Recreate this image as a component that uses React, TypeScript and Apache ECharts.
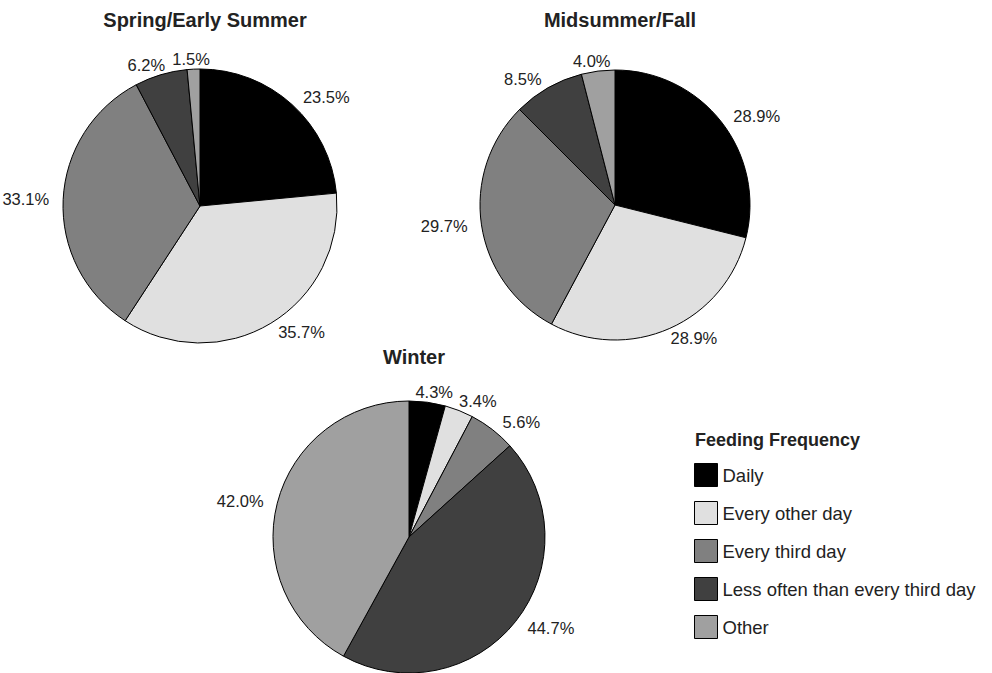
import React, { useEffect, useRef } from "react";
import * as echarts from "echarts";

const categories = [
  "Daily",
  "Every other day",
  "Every third day",
  "Less often than every third day",
  "Other",
];
const colors = ["#000000", "#e0e0e0", "#808080", "#404040", "#a0a0a0"];
const springValues = [23.5, 35.7, 33.1, 6.2, 1.5];
const midsummerValues = [28.9, 28.9, 29.7, 8.5, 4.0];
const winterValues = [4.3, 3.4, 5.6, 44.7, 42.0];
const panelTitles = ["Spring/Early Summer", "Midsummer/Fall", "Winter"];
const legendTitle = "Feeding Frequency";

const FONT = "'Liberation Sans', Arial, Helvetica, sans-serif";

// Labels near the top of a pie are centred over their slice; labels toward the
// sides are pushed fully outward (left/right aligned), blended smoothly.
function pieLabelLayout(params: any) {
  const pts = params.labelLinePoints;
  const r = params.labelRect;
  if (!pts || pts.length < 2 || !r) return {};
  const p0 = pts[0];
  const p1 = pts[1];
  const end = pts[pts.length - 1];
  const dx = p1[0] - p0[0];
  const dy = p1[1] - p0[1];
  const len = Math.hypot(dx, dy) || 1;
  const s = dx / len;
  const f = Math.sign(s) * Math.min(1, 1.8 * Math.abs(s));
  return {
    x: end[0] + f * (r.width / 2 + 4),
    y: r.y + r.height / 2,
    align: "center",
    verticalAlign: "middle",
  };
}

function makePie(name: string, values: number[], center: [number, number], radius: number) {
  return {
    type: "pie",
    name,
    center,
    radius,
    startAngle: 90,
    clockwise: true,
    avoidLabelOverlap: false,
    itemStyle: { borderColor: "#000", borderWidth: 1 },
    emphasis: { disabled: true },
    label: {
      show: true,
      position: "outside",
      color: "#222",
      fontSize: 16.5,
      fontFamily: FONT,
      overflow: "none",
      bleedMargin: 0,
      formatter: (p: any) => `${Number(p.value).toFixed(1)}%`,
    },
    labelLine: { show: true, length: 10, length2: 0, lineStyle: { opacity: 0, width: 0 } },
    labelLayout: pieLabelLayout,
    data: values.map((v, i) => ({
      name: categories[i],
      value: v,
      itemStyle: { color: colors[i] },
    })),
  };
}

const titleStyle = { fontSize: 20, fontWeight: "bold", color: "#222", fontFamily: FONT };

export default function App() {
  const ref = useRef<HTMLDivElement>(null);
  useEffect(() => {
    if (!ref.current) return;
    const chart = echarts.init(ref.current, undefined, { renderer: "svg" });
    chart.setOption({
      animation: false,
      backgroundColor: "#ffffff",
      textStyle: { fontFamily: FONT },
      title: [
        { text: panelTitles[0], left: 200, top: 5, padding: 5, textAlign: "center", textStyle: titleStyle },
        { text: panelTitles[1], left: 615, top: 5, padding: 5, textAlign: "center", textStyle: titleStyle },
        { text: panelTitles[2], left: 409, top: 342, padding: 5, textAlign: "center", textStyle: titleStyle },
        { text: legendTitle, left: 690, top: 426, padding: 5, textStyle: { fontSize: 18, fontWeight: "bold", color: "#222", fontFamily: FONT } },
      ],
      legend: {
        orient: "vertical",
        left: 694,
        top: 463,
        padding: 0,
        itemWidth: 23,
        itemHeight: 23,
        itemGap: 14,
        icon: "rect",
        selectedMode: false,
        data: categories,
        itemStyle: { borderColor: "#000", borderWidth: 1 },
        textStyle: { fontSize: 18.5, color: "#222", fontFamily: FONT },
      },
      series: [
        makePie(panelTitles[0], springValues, [200, 206], 137),
        makePie(panelTitles[1], midsummerValues, [615, 205], 135),
        makePie(panelTitles[2], winterValues, [409, 537], 136),
      ],
    });
    return () => chart.dispose();
  }, []);
  return (
    <div
      ref={ref}
      style={{ position: "absolute", left: 0, top: 0, width: 992, height: 673 }}
    />
  );
}
